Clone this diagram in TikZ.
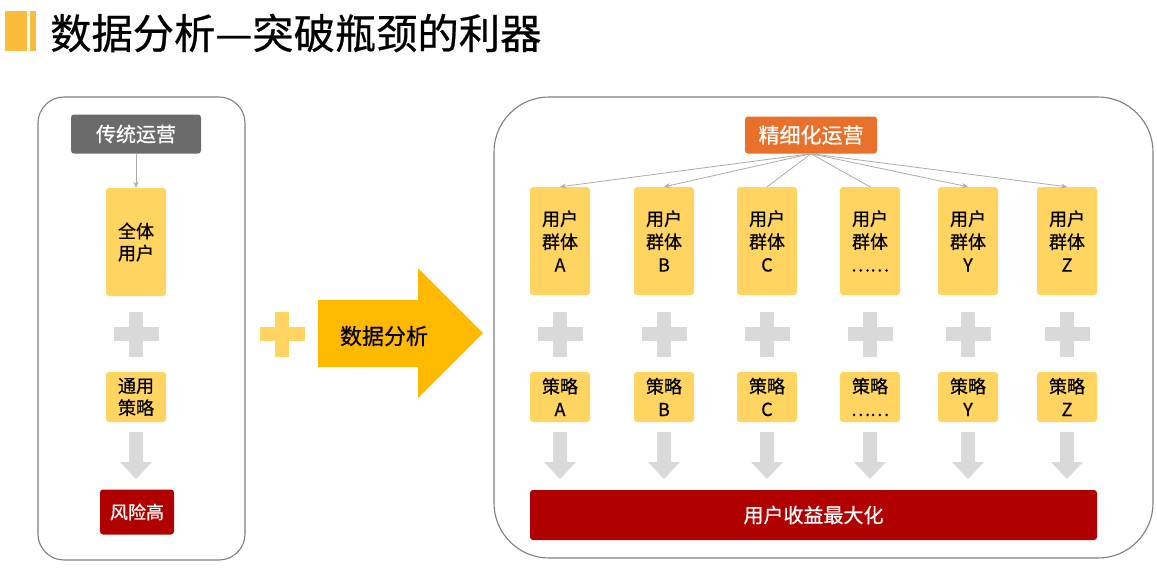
\documentclass[tikz,border=0pt]{standalone}
\usepackage{fontspec}
\setmainfont{Noto Sans CJK SC}[FakeBold=0.6]
\usetikzlibrary{arrows.meta}
\definecolor{boxy}{HTML}{FFD460}
\definecolor{plusg}{HTML}{D9D9D9}
\definecolor{frameg}{HTML}{7F7F7F}
\definecolor{tradg}{HTML}{6B6B6B}
\definecolor{fineo}{HTML}{E8702A}
\definecolor{riskr}{HTML}{B00000}
\definecolor{bigarr}{HTML}{FFB900}
\definecolor{titley}{HTML}{FBBC3C}
\definecolor{conng}{HTML}{ABABAB}
\tikzset{
  ybox/.style={fill=boxy, rounded corners=3pt, inner sep=0pt, align=center, text=black},
  darkbox/.style={rounded corners=3pt, inner sep=0pt, align=center, text=white},
  frame/.style={draw=frameg, line width=1.1pt},
  conn/.style={draw=conng, line width=0.8pt},
  connarr/.style={conn, -{Stealth[length=6pt,width=5pt]}},
  plussign/.pic={
    \fill[pic actions] (-22.5,-7) rectangle (22.5,7);
    \fill[pic actions] (-7,-22.5) rectangle (7,22.5);
  },
  downarrow/.pic={
    \fill[plusg] (-7,0) -- (7,0) -- (7,30) -- (16,30) -- (0,47) -- (-16,30) -- (-7,30) -- cycle;
  }
}
\begin{document}
\begin{tikzpicture}[x=1pt,y=-1pt]
\useasboundingbox (0,0) rectangle (1157,574);
\fill[white] (0,0) rectangle (1157,574);

% title
\fill[titley] (5,11) rectangle (27,51);
\fill[titley] (30,11) rectangle (36,51);
\node[anchor=west, inner sep=0pt, font=\fontsize{41.3}{46}\selectfont] (title) at (50,33) {数据分析—突破瓶颈的利器};

% left panel
\draw[frame, rounded corners=26pt] (38,97) rectangle (245,560);
\node[darkbox, fill=tradg, minimum width=130pt, minimum height=39pt, font=\fontsize{20}{24}\selectfont] (trad) at (136,134) {传统运营};
\node[ybox, minimum width=60pt, minimum height=108pt, font=\fontsize{18}{22}\selectfont] (allu) at (136,242) {全体\\用户};
\draw[connarr] (trad.south) -- (allu.north);
\path (136,334) pic[fill=plusg] {plussign};
\node[ybox, minimum width=60pt, minimum height=50pt, font=\fontsize{18}{22}\selectfont] (gens) at (136,397) {通用\\策略};
\path (136,432) pic {downarrow};
\node[darkbox, fill=riskr, minimum width=74pt, minimum height=45pt, font=\fontsize{18}{22}\selectfont] (risk) at (137,512) {风险高};

% middle
\path (282,334) pic[fill=boxy] {plussign};
\fill[bigarr] (318,300) -- (418,300) -- (418,268) -- (483,333) -- (418,398) -- (418,367) -- (318,367) -- cycle;
\node[inner sep=0pt, font=\fontsize{22}{26}\selectfont] (da) at (384,336) {数据分析};

% right panel
\draw[frame, rounded corners=55pt] (494,97) rectangle (1153,558);
\node[darkbox, fill=fineo, minimum width=132pt, minimum height=37pt, font=\fontsize{21}{25}\selectfont] (fine) at (811,135) {精细化运营};

\foreach \n/\x/\l in {a/560/A, b/664/B, c/767/C, d/870/……, y/968/Y, z/1067/Z}{
  \node[ybox, minimum width=60pt, minimum height=108pt, font=\fontsize{18}{23}\selectfont] (g\n) at (\x,241) {\raisebox{-2pt}{\parbox{60pt}{\centering 用户\\群体\\\l}}};
  \path (\x,334) pic[fill=plusg] {plussign};
  \node[ybox, minimum width=60pt, minimum height=50pt, font=\fontsize{18}{23}\selectfont] (s\n) at (\x,397) {策略\\\l};
  \path (\x,432) pic {downarrow};
}
\draw[connarr] (fine.south) -- (ga.north);
\draw[connarr] (fine.south) -- (gb.north);
\draw[conn] (fine.south) -- (gc.north);
\draw[conn] (fine.south) -- (gd.north);
\draw[connarr] (fine.south) -- (gy.north);
\draw[connarr] (fine.south) -- (gz.north);

\node[darkbox, fill=riskr, minimum width=567pt, minimum height=50pt, font=\fontsize{20}{24}\selectfont] (max) at (813.5,515) {用户收益最大化};
\end{tikzpicture}
\end{document}
